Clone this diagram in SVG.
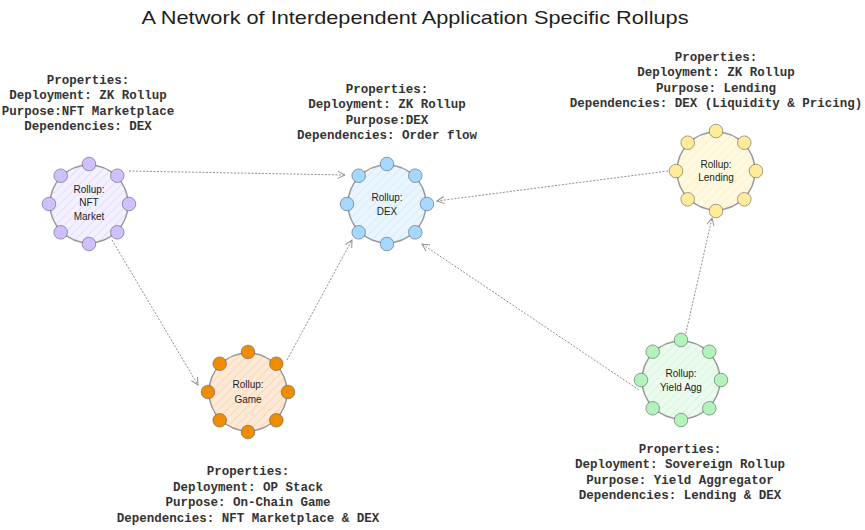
<svg xmlns="http://www.w3.org/2000/svg" xmlns:xlink="http://www.w3.org/1999/xlink" width="865" height="530" viewBox="0 0 865 530">
<style>
.title{font-family:"Liberation Sans",Arial,sans-serif;font-size:19px;fill:#1e1e1e;text-anchor:middle}
.props{font-family:"Liberation Mono","DejaVu Sans Mono",monospace;font-size:12.5px;font-weight:bold;fill:#333333;text-anchor:middle}
.lbl{font-family:"Liberation Sans",Arial,sans-serif;font-size:10px;fill:#1e1e1e;text-anchor:middle}
.body{stroke:#9a9a9a;stroke-width:1.5}
.conn{fill:none;stroke:#8f8f8f;stroke-width:1;stroke-dasharray:2 1.5}
.ring{stroke:#555;stroke-opacity:0.55;stroke-width:1}
</style>
<defs>
<marker id="arr" viewBox="0 0 10 10" refX="9" refY="5" markerWidth="9" markerHeight="9" markerUnits="userSpaceOnUse" orient="auto">
<path d="M1,1 L9,5 L1,9" fill="none" stroke="#8f8f8f" stroke-width="1.1"/>
</marker>
<g id="dots">
<circle cx="0" cy="-40" r="6.8"/>
<circle cx="28.3" cy="-28.3" r="6.8"/>
<circle cx="40" cy="0" r="6.8"/>
<circle cx="28.3" cy="28.3" r="6.8"/>
<circle cx="0" cy="40" r="6.8"/>
<circle cx="-28.3" cy="28.3" r="6.8"/>
<circle cx="-40" cy="0" r="6.8"/>
<circle cx="-28.3" cy="-28.3" r="6.8"/>
</g>
<pattern id="hP" width="6" height="6" patternUnits="userSpaceOnUse" patternTransform="rotate(45)"><rect width="6" height="6" fill="#f3f0ff"/><line x1="0" y1="0" x2="0" y2="6" stroke="#e2d9fc" stroke-width="1.5"/></pattern>
<pattern id="hB" width="6" height="6" patternUnits="userSpaceOnUse" patternTransform="rotate(45)"><rect width="6" height="6" fill="#e9f5ff"/><line x1="0" y1="0" x2="0" y2="6" stroke="#d3e9fb" stroke-width="1.5"/></pattern>
<pattern id="hY" width="6" height="6" patternUnits="userSpaceOnUse" patternTransform="rotate(45)"><rect width="6" height="6" fill="#fff9e0"/><line x1="0" y1="0" x2="0" y2="6" stroke="#fbefc4" stroke-width="1.5"/></pattern>
<pattern id="hO" width="6" height="6" patternUnits="userSpaceOnUse" patternTransform="rotate(45)"><rect width="6" height="6" fill="#fde9d6"/><line x1="0" y1="0" x2="0" y2="6" stroke="#f9d3ae" stroke-width="1.5"/></pattern>
<pattern id="hG" width="6" height="6" patternUnits="userSpaceOnUse" patternTransform="rotate(45)"><rect width="6" height="6" fill="#ebfbee"/><line x1="0" y1="0" x2="0" y2="6" stroke="#d4f3da" stroke-width="1.5"/></pattern>
</defs>
<rect width="865" height="530" fill="#ffffff"/>
<text class="title" x="415" y="24" textLength="547" lengthAdjust="spacingAndGlyphs">A Network of Interdependent Application Specific Rollups</text>

<g id="connectors">
<line class="conn" x1="129" y1="171" x2="345" y2="175" marker-end="url(#arr)"/>
<line class="conn" x1="112" y1="240" x2="198" y2="385" marker-end="url(#arr)"/>
<line class="conn" x1="287" y1="360" x2="352" y2="240" marker-end="url(#arr)"/>
<line class="conn" x1="668" y1="171" x2="437" y2="201" marker-end="url(#arr)"/>
<line class="conn" x1="639" y1="390" x2="422" y2="244" marker-end="url(#arr)"/>
<line class="conn" x1="685" y1="337" x2="712" y2="218" marker-end="url(#arr)"/>
</g>

<g id="nft">
<circle class="body" cx="89" cy="204" r="39" fill="url(#hP)"/>
<use href="#dots" x="89" y="204" fill="#d0bfff" class="ring"/>
<text class="lbl" x="89" y="193">Rollup:</text>
<text class="lbl" x="89" y="206">NFT</text>
<text class="lbl" x="89" y="220">Market</text>
<text class="props" x="88" y="84">Properties:</text>
<text class="props" x="88" y="99.3">Deployment: ZK Rollup</text>
<text class="props" x="88" y="114.6">Purpose:NFT Marketplace</text>
<text class="props" x="88" y="129.9">Dependencies: DEX</text>
</g>

<g id="dex">
<circle class="body" cx="387" cy="204" r="39" fill="url(#hB)"/>
<use href="#dots" x="387" y="204" fill="#a5d8ff" class="ring"/>
<text class="lbl" x="387" y="201">Rollup:</text>
<text class="lbl" x="387" y="215">DEX</text>
<text class="props" x="387" y="93">Properties:</text>
<text class="props" x="387" y="108.3">Deployment: ZK Rollup</text>
<text class="props" x="387" y="123.6">Purpose:DEX</text>
<text class="props" x="387" y="138.9">Dependencies: Order flow</text>
</g>

<g id="lending">
<circle class="body" cx="716" cy="171" r="39" fill="url(#hY)"/>
<use href="#dots" x="716" y="171" fill="#ffec99" class="ring"/>
<text class="lbl" x="716" y="168">Rollup:</text>
<text class="lbl" x="716" y="181">Lending</text>
<text class="props" x="716" y="61">Properties:</text>
<text class="props" x="716" y="76.3">Deployment: ZK Rollup</text>
<text class="props" x="716" y="91.6">Purpose: Lending</text>
<text class="props" x="716" y="106.9">Dependencies: DEX (Liquidity &amp; Pricing)</text>
</g>

<g id="game">
<circle class="body" cx="248" cy="392" r="39" fill="url(#hO)"/>
<use href="#dots" x="248" y="392" fill="#f08c00" class="ring"/>
<text class="lbl" x="248" y="388">Rollup:</text>
<text class="lbl" x="248" y="403">Game</text>
<text class="props" x="248" y="475">Properties:</text>
<text class="props" x="248" y="490.6">Deployment: OP Stack</text>
<text class="props" x="248" y="506.2">Purpose: On-Chain Game</text>
<text class="props" x="248" y="521.8">Dependencies: NFT Marketplace &amp; DEX</text>
</g>

<g id="yield">
<circle class="body" cx="681" cy="380" r="39" fill="url(#hG)"/>
<use href="#dots" x="681" y="380" fill="#b2f2bb" class="ring"/>
<text class="lbl" x="681" y="377">Rollup:</text>
<text class="lbl" x="681" y="391">Yield Agg</text>
<text class="props" x="680" y="453">Properties:</text>
<text class="props" x="680" y="468.3">Deployment: Sovereign Rollup</text>
<text class="props" x="680" y="483.6">Purpose: Yield Aggregator</text>
<text class="props" x="680" y="498.9">Dependencies: Lending &amp; DEX</text>
</g>
</svg>
